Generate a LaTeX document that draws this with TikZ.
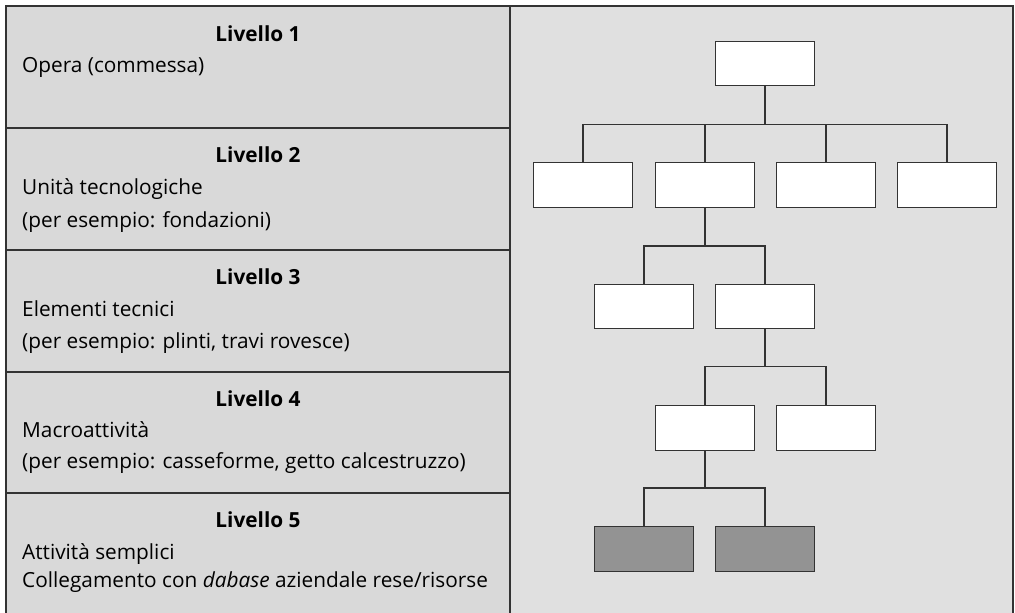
\documentclass[tikz,border=0pt]{standalone}
\usepackage{fontspec}
\setmainfont{Open Sans}
\definecolor{leftfill}{HTML}{D9D9D9}
\definecolor{rightfill}{HTML}{E0E0E0}
\definecolor{framecol}{HTML}{333333}
\definecolor{leafgray}{HTML}{939393}
\tikzset{
  frame/.style={draw=framecol, line width=1.8pt},
  sep/.style={draw=framecol, line width=1.3pt},
  box/.style={draw=framecol, fill=white, line width=1.3pt, minimum width=99pt, minimum height=44.5pt, inner sep=0pt},
  leaf/.style={box, fill=leafgray},
  link/.style={draw=framecol, line width=1.3pt},
  title/.style={anchor=base, font=\fontsize{20.8}{22}\selectfont\bfseries, inner sep=0pt},
  body/.style={anchor=base west, font=\fontsize{20.8}{22}\selectfont, inner sep=0pt}
}
\begin{document}
\begin{tikzpicture}[x=1pt,y=-1pt]
\useasboundingbox (0,0) rectangle (1015,613);
% panels
\fill[leftfill] (6,6) rectangle (510,613);
\fill[rightfill] (510,6) rectangle (1013,613);
\draw[sep] (6,128) -- (510,128);
\draw[sep] (6,250) -- (510,250);
\draw[sep] (6,372) -- (510,372);
\draw[sep] (6,493) -- (510,493);
\draw[frame] (510,6) -- (510,613);
\draw[frame] (6,614) -- (6,6) -- (1013,6) -- (1013,614);
% left texts
\node[title] (t1) at (258,41.5) {Livello 1};
\node[body] (a1) at (22,72) {Opera (commessa)};
\node[title] (t2) at (258,162.5) {Livello 2};
\node[body] (a2) at (22,194) {Unità tecnologiche};
\node[body] (b2) at (22,227) {(per esempio: fondazioni)};
\node[title] (t3) at (258,284.5) {Livello 3};
\node[body] (a3) at (22,316) {Elementi tecnici};
\node[body] (b3) at (22,348.5) {(per esempio: plinti, travi rovesce)};
\node[title] (t4) at (258,406) {Livello 4};
\node[body] (a4) at (22,437.5) {Macroattività};
\node[body] (b4) at (22,468.5) {(per esempio: casseforme, getto calcestruzzo)};
\node[title] (t5) at (258,527.5) {Livello 5};
\node[body] (a5) at (22,559) {Attività semplici};
\node[body] (b5) at (22,587.5) {Collegamento con \textit{dabase} aziendale rese/risorse};
% tree
\node[box] (r) at (765,63.5) {};
\node[box] (n1) at (583,185) {};
\node[box] (n2) at (705,185) {};
\node[box] (n3) at (826,185) {};
\node[box] (n4) at (947,185) {};
\node[box] (m1) at (644,306.5) {};
\node[box] (m2) at (765,306.5) {};
\node[box] (k1) at (705,428) {};
\node[box] (k2) at (826,428) {};
\node[leaf] (l1) at (644,549) {};
\node[leaf] (l2) at (765,549) {};
% connectors
\draw[link] (r.south) -- ++(0,38) coordinate (j1);
\draw[link] (j1) -| (n1.north);
\draw[link] (j1) -| (n2.north);
\draw[link] (j1) -| (n3.north);
\draw[link] (j1) -| (n4.north);
\draw[link] (n2.south) -- ++(0,38) coordinate (j2);
\draw[link] (j2) -| (m1.north);
\draw[link] (j2) -| (m2.north);
\draw[link] (m2.south) -- ++(0,37) coordinate (j3);
\draw[link] (j3) -| (k1.north);
\draw[link] (j3) -| (k2.north);
\draw[link] (k1.south) -- ++(0,37) coordinate (j4);
\draw[link] (j4) -| (l1.north);
\draw[link] (j4) -| (l2.north);
\end{tikzpicture}
\end{document}
